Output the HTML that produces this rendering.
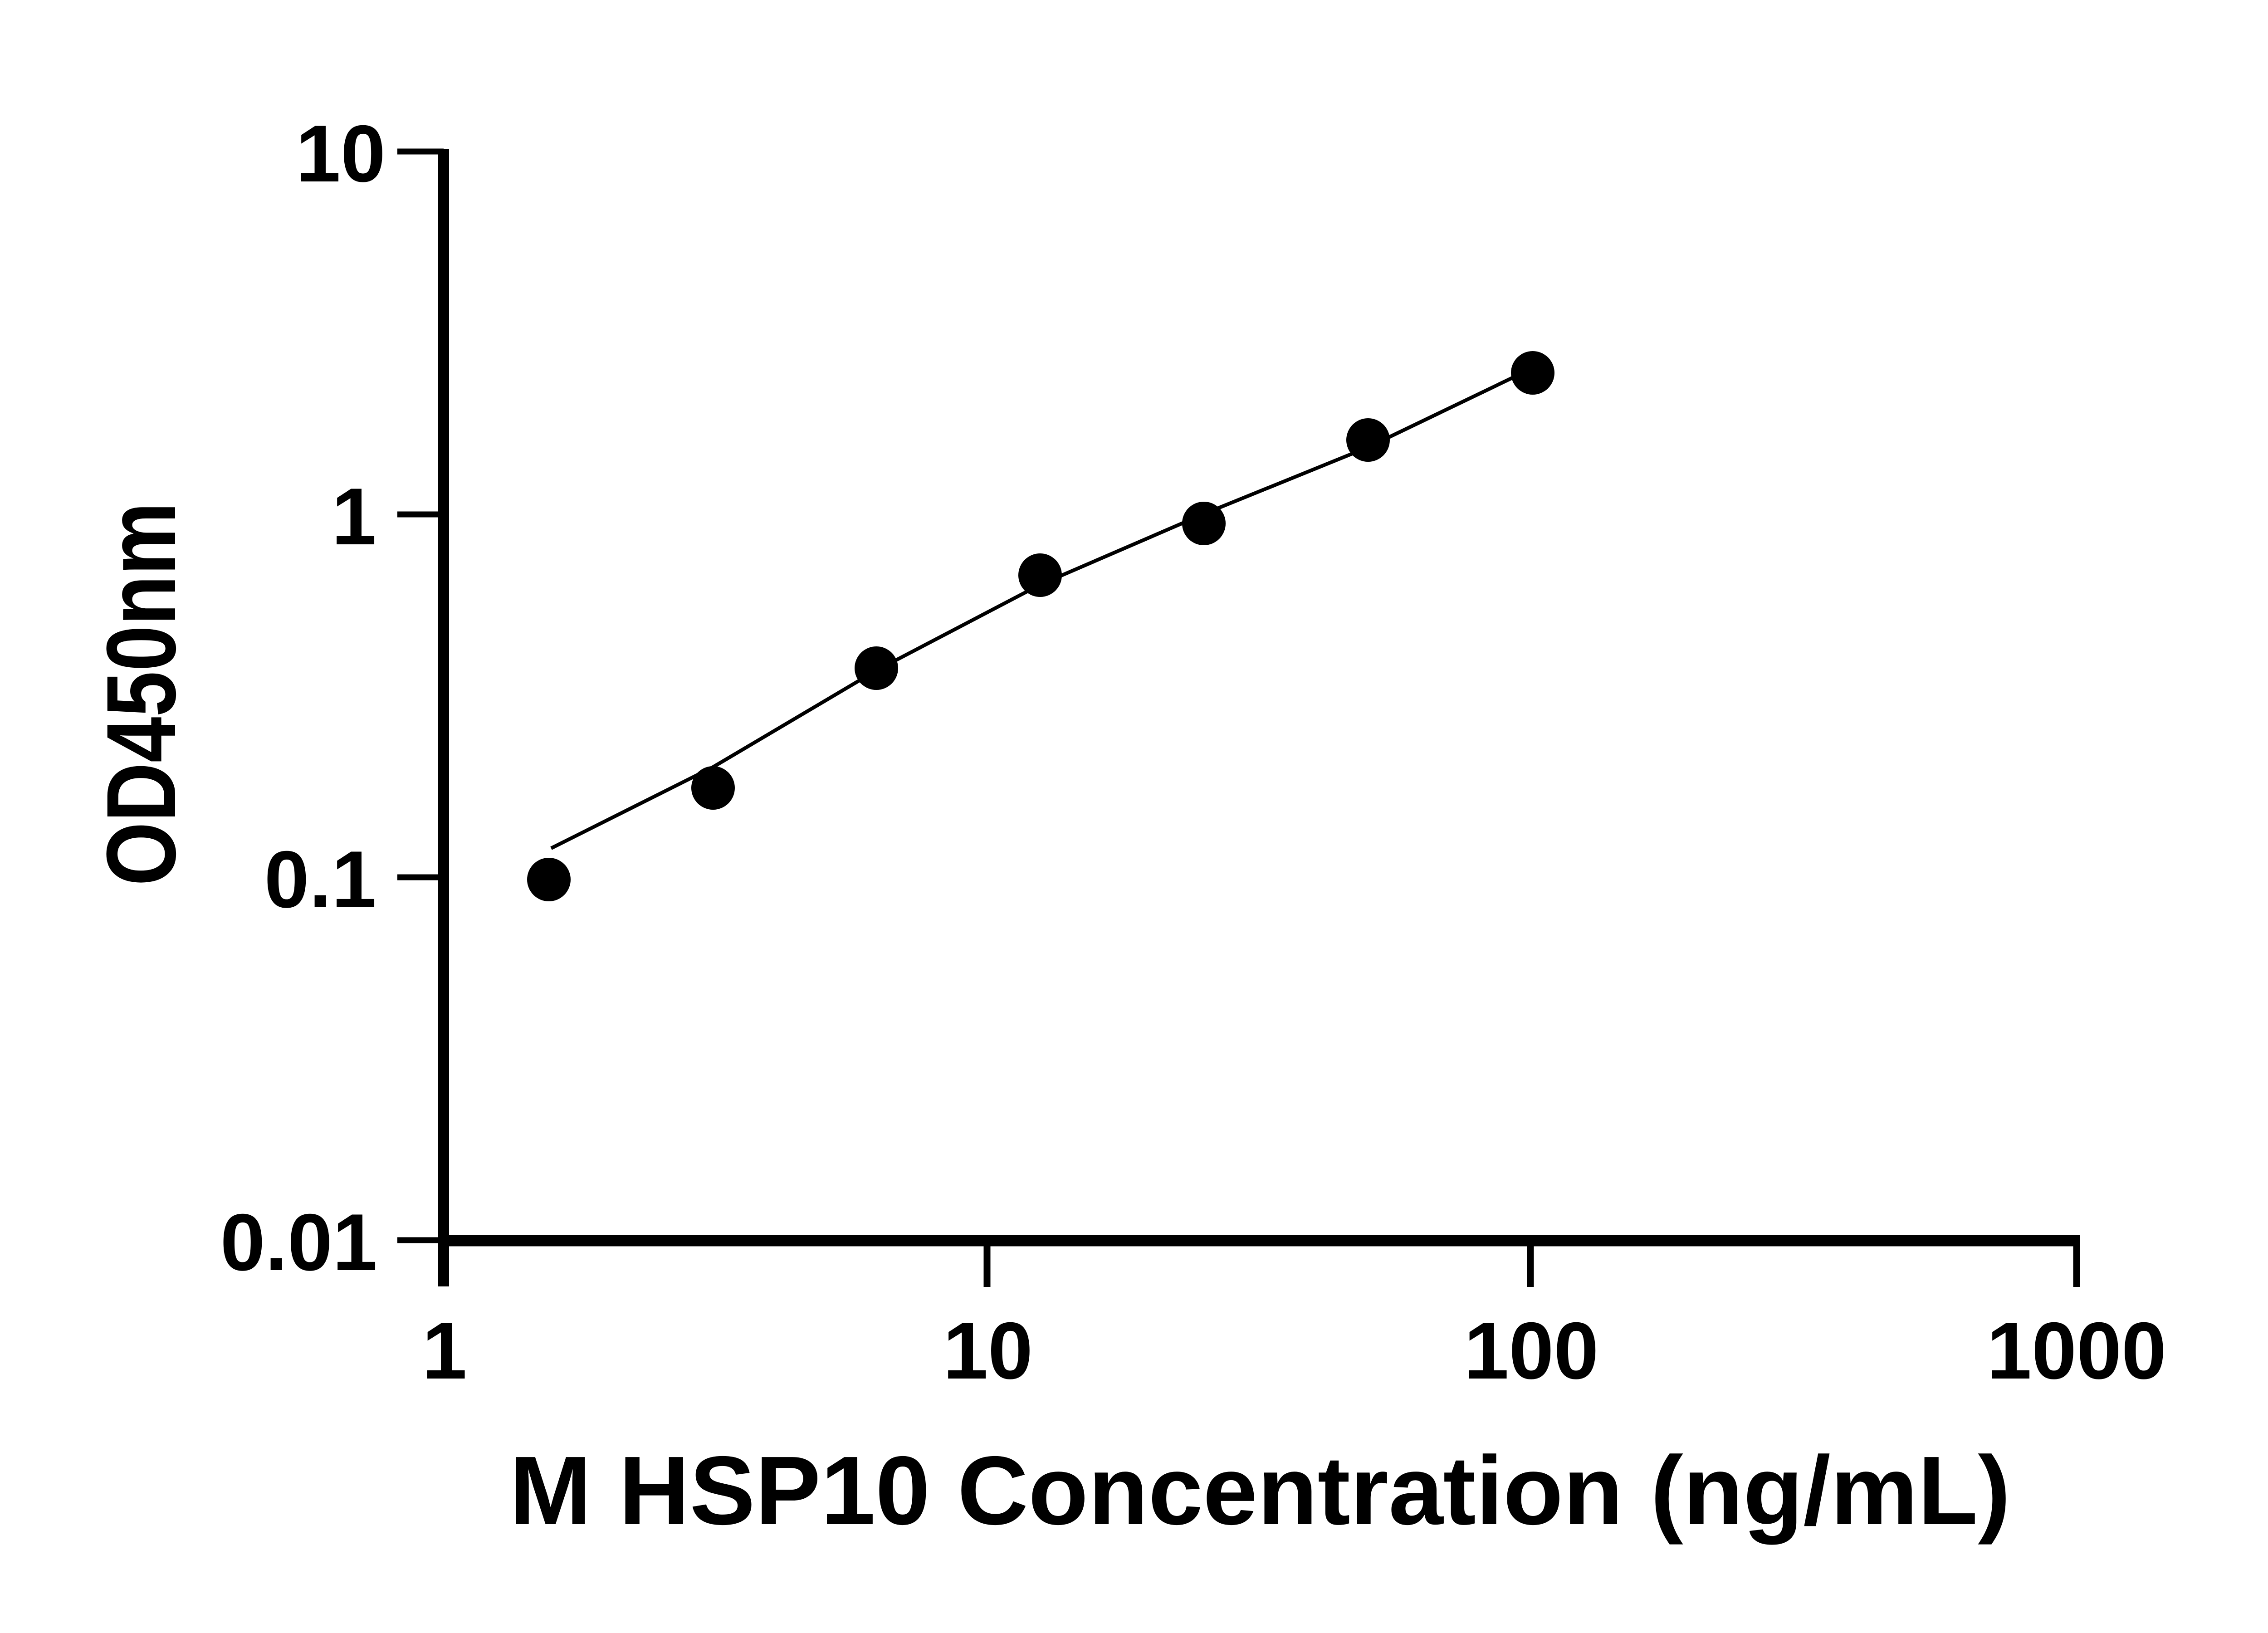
<!DOCTYPE html>
<html><head><meta charset="utf-8"><style>html,body{margin:0;padding:0;background:#fff}svg{display:block}</style></head>
<body>
<svg width="5130" height="3600" viewBox="0 0 5130 3600" xmlns="http://www.w3.org/2000/svg" font-family="'Liberation Sans', Arial, sans-serif" font-weight="bold">
<rect width="5130" height="3600" fill="#fff"/>
<!-- y axis -->
<line x1="978" y1="328" x2="978" y2="2836" stroke="#000" stroke-width="24"/>
<g stroke="#000" stroke-width="13">
<line x1="876" y1="334" x2="978" y2="334"/>
<line x1="876" y1="1134" x2="978" y2="1134"/>
<line x1="876" y1="1934" x2="978" y2="1934"/>
<line x1="876" y1="2734" x2="978" y2="2734"/>
</g>
<!-- x axis -->
<line x1="966" y1="2735" x2="4586" y2="2735" stroke="#000" stroke-width="25"/>
<g stroke="#000" stroke-width="15">
<line x1="2176" y1="2735" x2="2176" y2="2837"/>
<line x1="3374" y1="2735" x2="3374" y2="2837"/>
<line x1="4578" y1="2722" x2="4578" y2="2837"/>
</g>
<g font-size="178" text-anchor="end">
<text x="850" y="400">10</text>
<text x="830" y="1200">1</text>
<text x="830" y="2000">0.1</text>
<text x="832" y="2800">0.01</text>
</g>
<g font-size="178" text-anchor="middle">
<text x="980" y="3039">1</text>
<text x="2178" y="3039">10</text>
<text x="3376" y="3039">100</text>
<text x="4578" y="3039">1000</text>
</g>
<text x="2778" y="3360" font-size="215" text-anchor="middle" textLength="3309" lengthAdjust="spacingAndGlyphs">M HSP10 Concentration (ng/mL)</text>
<text transform="translate(386,1530) rotate(-90)" font-size="217" text-anchor="middle" textLength="846" lengthAdjust="spacingAndGlyphs">OD450nm</text>
<!-- fit curve -->
<polyline fill="none" stroke="#000" stroke-width="8" points="1215,1870 1572,1691 1932,1478 2293,1289 2654,1133 3016,986 3336,832"/>
<g fill="#000">
<circle cx="1210" cy="1939" r="48"/>
<circle cx="1572" cy="1737" r="48"/>
<circle cx="1932" cy="1473" r="48"/>
<circle cx="2293" cy="1268" r="48"/>
<circle cx="2654" cy="1154" r="48"/>
<circle cx="3016" cy="970" r="48"/>
<circle cx="3379" cy="822" r="48"/>
</g>
</svg>
</body></html>
